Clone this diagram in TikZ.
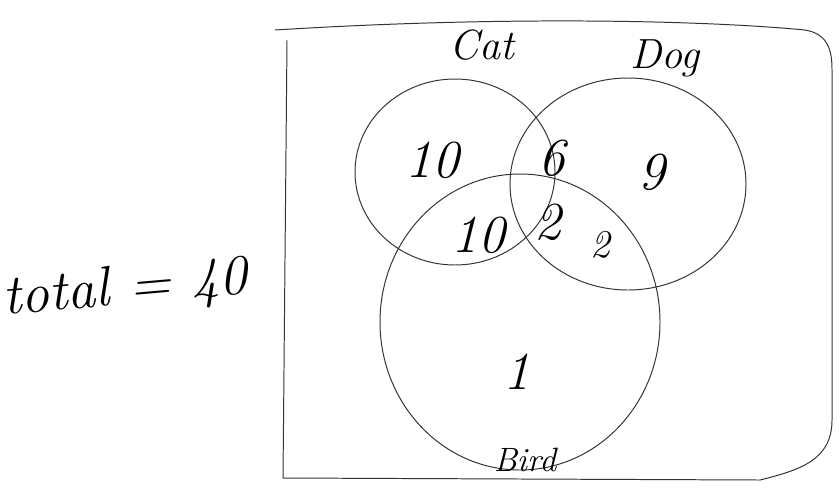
\documentclass[tikz,border=0pt]{standalone}
\usepackage{amsmath}
\usetikzlibrary{calc, positioning}

\begin{document}
\begin{tikzpicture}[x=0.025cm, y=-0.025cm,
    pencil/.style={line width=0.7pt, black!80},
    hand/.style={font=\fontsize{30}{34}\selectfont\itshape, inner sep=0pt},
    count/.style={font=\fontsize{38}{42}\selectfont\itshape, inner sep=0pt}]
\useasboundingbox (0,0) rectangle (840,487);
\coordinate (CatC) at (455,172);
\coordinate (DogC) at (628,184);
\coordinate (BirdC) at (520,322);

% box of all pets
\draw[pencil] (275,30) .. controls (500,16) and (700,20) .. (805,30)
    .. controls (828,34) and (832,50) .. (832,70)
    -- (832,420) .. controls (832,460) and (800,470) .. (760,480)
    -- (283,478) -- (287,40);

% the three sets
\draw[pencil] (CatC) ellipse [x radius=100, y radius=93];
\draw[pencil] (DogC) ellipse [x radius=118, y radius=106];
\draw[pencil] (BirdC) ellipse [x radius=140, y radius=148];

\node[hand] (cat) at (482,45) {Cat};
\node[hand] (dog) at (665,58) {Dog};
\node[hand, font=\fontsize{24}{28}\selectfont\itshape] (bird) at (525,460) {Bird};

\node[count] (catonly) at (432,160) {10};
\node[count] (catdog) at (552,158) {6};
\node[count] (dogonly) at (652,172) {9};
\node[count] (catbird) at (478,235) {10};
\node[count] (alltri) at (548,222) {2};
\node[count, font=\fontsize{28}{32}\selectfont\itshape] (dogbird) at (600,245) {2};
\node[count] (birdonly) at (517,372) {1};

\node[hand, font=\fontsize{40}{44}\selectfont\itshape, rotate=5] (total) at (125,290) {total = 40};
\end{tikzpicture}
\end{document}
